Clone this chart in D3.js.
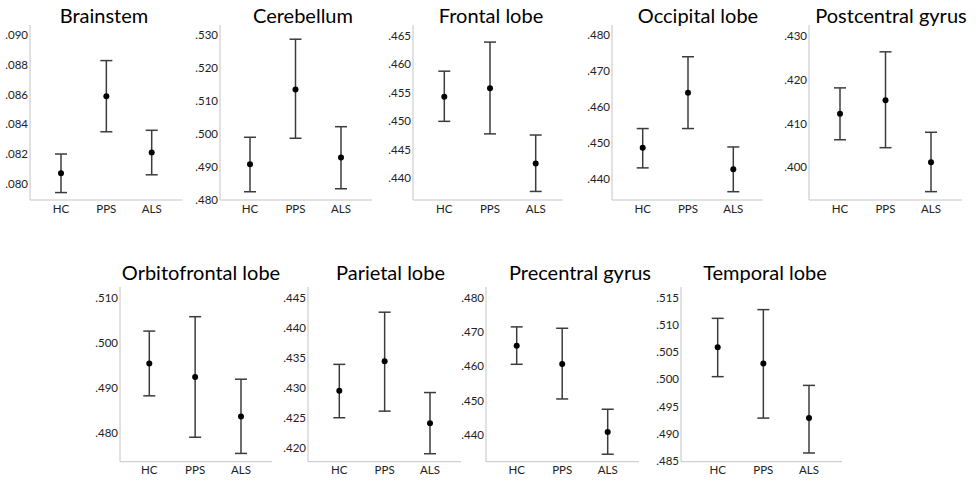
<!DOCTYPE html>
<html>
<head>
<meta charset="utf-8">
<script src="https://cdn.jsdelivr.net/npm/d3@7"></script>
<style>
  body { margin: 0; background: #fff; }
  svg { display: block; font-family: Lato, "Open Sans", sans-serif; }
</style>
</head>
<body>
<svg width="978" height="481"></svg>
<script>
// groups and regions
let groups = ["HC", "PPS", "ALS"]
let regions = ["Brainstem", "Cerebellum", "Frontal lobe", "Occipital lobe", "Postcentral gyrus",
               "Orbitofrontal lobe", "Parietal lobe", "Precentral gyrus", "Temporal lobe"]

// mean and 95% CI per region, order HC, PPS, ALS
let means  = [[.0807, .0859, .0821], [.4908, .5135, .4929], [.4543, .4558, .4426],
              [.4488, .4640, .4428], [.4122, .4153, .4012], [.4954, .4924, .4836],
              [.4296, .4345, .4242], [.4660, .4607, .4409], [.5059, .5029, .4929]]
let lowers = [[.0794, .0835, .0806], [.4825, .4987, .4834], [.4500, .4478, .4377],
              [.4432, .4541, .4366], [.4063, .4045, .3945], [.4882, .4790, .4754],
              [.4251, .4262, .4191], [.4606, .4505, .4344], [.5005, .4929, .4865]]
let uppers = [[.0820, .0883, .0836], [.4990, .5287, .5022], [.4588, .4639, .4476],
              [.4541, .4740, .4490], [.4181, .4263, .4080], [.5026, .5058, .4919],
              [.4340, .4427, .4293], [.4715, .4711, .4475], [.5112, .5128, .4989]]

// y tick values per region
let ticks = [[.080, .082, .084, .086, .088, .090],
             [.480, .490, .500, .510, .520, .530],
             [.440, .445, .450, .455, .460, .465],
             [.440, .450, .460, .470, .480],
             [.400, .410, .420, .430],
             [.480, .490, .500, .510],
             [.420, .425, .430, .435, .440, .445],
             [.440, .450, .460, .470, .480],
             [.485, .490, .495, .500, .505, .510, .515]]

// layout: axis left, axis right, first/last point x, axis top/bottom, y domain, title centre
let layout = [
  {ax: 30,  ar: 182, p: [61, 151.7],  top: 25,  bot: 200,   dom: [.0789, .0907], tx: 104, ty: 22.7},
  {ax: 220, ar: 372, p: [250, 341],   top: 25,  bot: 200,   dom: [.480, .533],   tx: 303, ty: 22.7},
  {ax: 413, ar: 563, p: [444.3, 535.7], top: 25, bot: 200,  dom: [.4362, .4669], tx: 491, ty: 22.7},
  {ax: 612, ar: 763, p: [642.7, 733.3], top: 25, bot: 200,  dom: [.4343, .4828], tx: 698, ty: 22.7},
  {ax: 809, ar: 962, p: [840, 931],   top: 25,  bot: 200,   dom: [.3926, .4324], tx: 891, ty: 22.7},
  {ax: 120, ar: 272, p: [149.3, 241], top: 287, bot: 461.7, dom: [.47356, .5124], tx: 201, ty: 280},
  {ax: 308, ar: 461, p: [339.3, 430], top: 287, bot: 461.7, dom: [.41777, .4469], tx: 390.5, ty: 280},
  {ax: 486, ar: 639, p: [516.7, 607.7], top: 287, bot: 461.7, dom: [.43222, .48312], tx: 580, ty: 280},
  {ax: 681, ar: 842, p: [717.7, 809], top: 287, bot: 461.7, dom: [.4849, .51695], tx: 765, ty: 280}
]

let svg = d3.select("svg")
let fmt = v => d3.format(".3f")(v).replace(/^0/, "")

regions.forEach(function(name, i) {
    let L = layout[i]
    let x = d3.scalePoint().domain(groups).range(L.p)
    let y = d3.scaleLinear().domain(L.dom).range([L.bot, L.top])
    let g = svg.append("g")

    // axes lines
    g.append("line").attr("x1", L.ax).attr("x2", L.ax).attr("y1", L.top).attr("y2", L.bot)
        .attr("stroke", "#c4c4c4").attr("stroke-width", 1)
    g.append("line").attr("x1", L.ax).attr("x2", L.ar).attr("y1", L.bot).attr("y2", L.bot)
        .attr("stroke", "#c4c4c4").attr("stroke-width", 1)

    g.selectAll("text.ytick").data(ticks[i]).join("text")
        .attr("class", "ytick")
        .attr("x", L.ax - 2)
        .attr("y", d => y(d))
        .attr("dy", "0.35em")
        .attr("text-anchor", "end")
        .attr("font-size", 11.5)
        .attr("fill", "#222")
        .text(fmt)

    g.selectAll("text.xtick").data(groups).join("text")
        .attr("class", "xtick")
        .attr("x", d => x(d))
        .attr("y", L.bot + 12.5)
        .attr("text-anchor", "middle")
        .attr("font-size", 11.5)
        .attr("fill", "#222")
        .text(d => d)

    g.append("text")
        .attr("x", L.tx).attr("y", L.ty)
        .attr("text-anchor", "middle")
        .attr("font-size", 20)
        .attr("fill", "#000")
        .text(name)

    let rows = groups.map((k, j) => ({k: k, m: means[i][j], lo: lowers[i][j], hi: uppers[i][j]}))

    g.selectAll("line.bar").data(rows).join("line")
        .attr("class", "bar")
        .attr("x1", d => x(d.k)).attr("x2", d => x(d.k))
        .attr("y1", d => y(d.lo)).attr("y2", d => y(d.hi))
        .attr("stroke", "#3c3c3c").attr("stroke-width", 1.5)
    g.selectAll("line.capHi").data(rows).join("line")
        .attr("class", "capHi")
        .attr("x1", d => x(d.k) - 6).attr("x2", d => x(d.k) + 6)
        .attr("y1", d => y(d.hi)).attr("y2", d => y(d.hi))
        .attr("stroke", "#3c3c3c").attr("stroke-width", 1.5)
    g.selectAll("line.capLo").data(rows).join("line")
        .attr("class", "capLo")
        .attr("x1", d => x(d.k) - 6).attr("x2", d => x(d.k) + 6)
        .attr("y1", d => y(d.lo)).attr("y2", d => y(d.lo))
        .attr("stroke", "#3c3c3c").attr("stroke-width", 1.5)
    g.selectAll("circle").data(rows).join("circle")
        .attr("cx", d => x(d.k))
        .attr("cy", d => y(d.m))
        .attr("r", 3)
        .attr("fill", "#000")
})
</script>
</body>
</html>
